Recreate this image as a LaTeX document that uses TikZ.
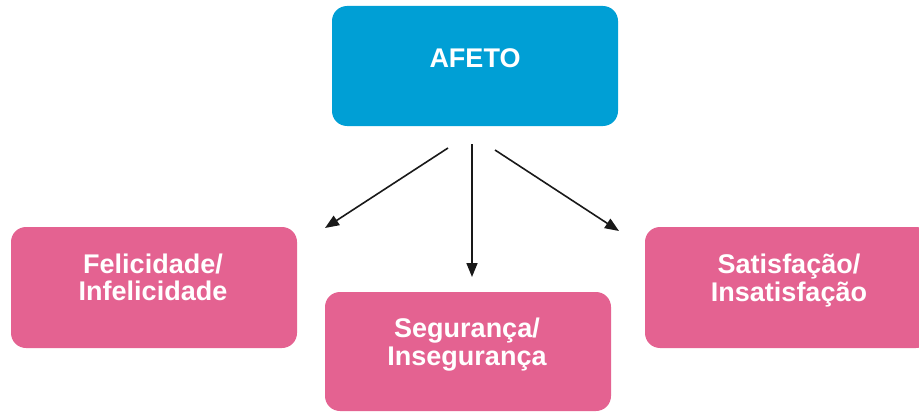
\documentclass[tikz,border=0pt]{standalone}
\usepackage{fontspec}
\setmainfont{Liberation Sans}
\usetikzlibrary{arrows.meta}
\definecolor{afetoblue}{RGB}{0,159,213}
\definecolor{itempink}{RGB}{228,98,145}
\definecolor{arrowgray}{RGB}{25,25,25}
\begin{document}
\begin{tikzpicture}[x=1pt,y=-1pt,
  box/.style={rectangle, rounded corners=15pt, minimum width=286pt, inner sep=0pt},
  label/.style={text=white, font=\bfseries\fontsize{27}{27.5}\selectfont, align=center, inner sep=0pt, anchor=base},
  link/.style={draw=arrowgray, line width=1.6pt, -{Triangle[length=14pt,width=11pt]}}]
  \useasboundingbox (0,0) rectangle (919,412);
  \begin{scope}
    \clip (0,0) rectangle (919,412);
    % boxes
    \node[box, fill=afetoblue, minimum height=120pt] (afeto) at (475,66) {};
    \node[box, fill=itempink, minimum height=121pt] (felic) at (154,287.5) {};
    \node[box, fill=itempink, minimum height=119pt] (segur) at (468,351.5) {};
    \node[box, fill=itempink, minimum height=121pt] (satis) at (788,287.5) {};
  \end{scope}
  % texts (anchored at the baseline of the last line)
  \node[label] (tafeto) at (475,67) {AFETO};
  \node[label] (tfelic) at (153,300.5) {Felicidade/\\Infelicidade};
  \node[label] (tsegur) at (467,365) {Segurança/\\Insegurança};
  \node[label] (tsatis) at (789,301) {Satisfação/\\Insatisfação};
  % arrows
  \coordinate (s1) at (448,148);
  \coordinate (e1) at (325,228);
  \coordinate (s2) at (472,144);
  \coordinate (e2) at (472,277);
  \coordinate (s3) at (495,150);
  \coordinate (e3) at (619,231);
  \draw[link] (s1) -- (e1);
  \draw[link] (s2) -- (e2);
  \draw[link] (s3) -- (e3);
\end{tikzpicture}
\end{document}
